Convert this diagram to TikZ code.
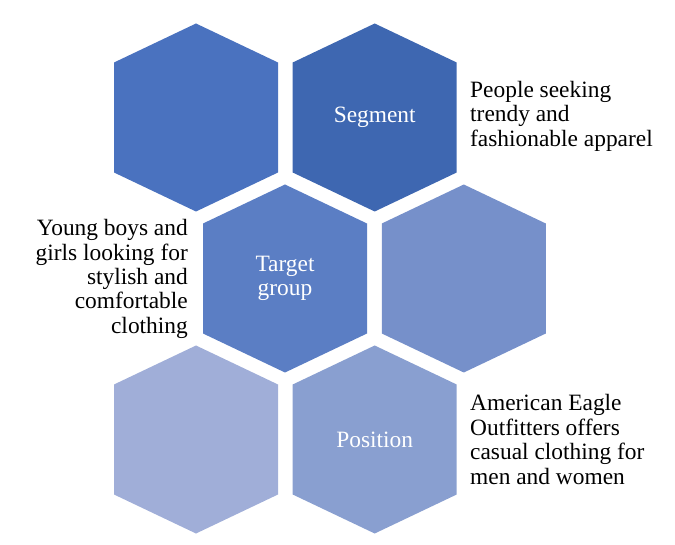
\documentclass[tikz,border=0pt]{standalone}
\usepackage{fontspec}
\setmainfont{Liberation Serif}
\definecolor{hA}{HTML}{4A72BF}
\definecolor{hB}{HTML}{3E67B1}
\definecolor{hC}{HTML}{5B7EC4}
\definecolor{hD}{HTML}{7690CA}
\definecolor{hE}{HTML}{A0AED8}
\definecolor{hF}{HTML}{899FD0}
\tikzset{
  txt/.style={inner sep=0pt, font=\fontsize{23.4}{24.4}\selectfont},
  hexlabel/.style={txt, text=white, align=center},
}
\newcommand{\hexat}[3]{%
  \fill[#3] (#1,#2) ++(0,-94) -- ++(82,39) -- ++(0,110) -- ++(-82,39) -- ++(-82,-39) -- ++(0,-110) -- cycle;}
\begin{document}
\begin{tikzpicture}[x=1pt,y=-1pt]
\useasboundingbox (0,0) rectangle (675,545);
\hexat{196}{117.5}{hA}
\hexat{374.7}{117.5}{hB}
\hexat{285}{278.5}{hC}
\hexat{463.8}{278.5}{hD}
\hexat{196}{439.5}{hE}
\hexat{374.7}{439.5}{hF}
\node[hexlabel] (seg) at (374.7,117.5) {Segment};
\node[hexlabel] (tgt) at (285,278.5) {Target\\group};
\node[hexlabel] (pos) at (374.7,439.5) {Position};
\node[txt, anchor=west, align=left] (segtxt) at (470,116) {People seeking\\trendy and\\fashionable apparel};
\node[txt, anchor=east, align=right] (tgttxt) at (188,279) {Young boys and\\girls looking for\\stylish and\\comfortable\\clothing};
\node[txt, anchor=west, align=left] (postxt) at (470,439.5) {American Eagle\\Outfitters offers\\casual clothing for\\men and women};
\end{tikzpicture}
\end{document}
